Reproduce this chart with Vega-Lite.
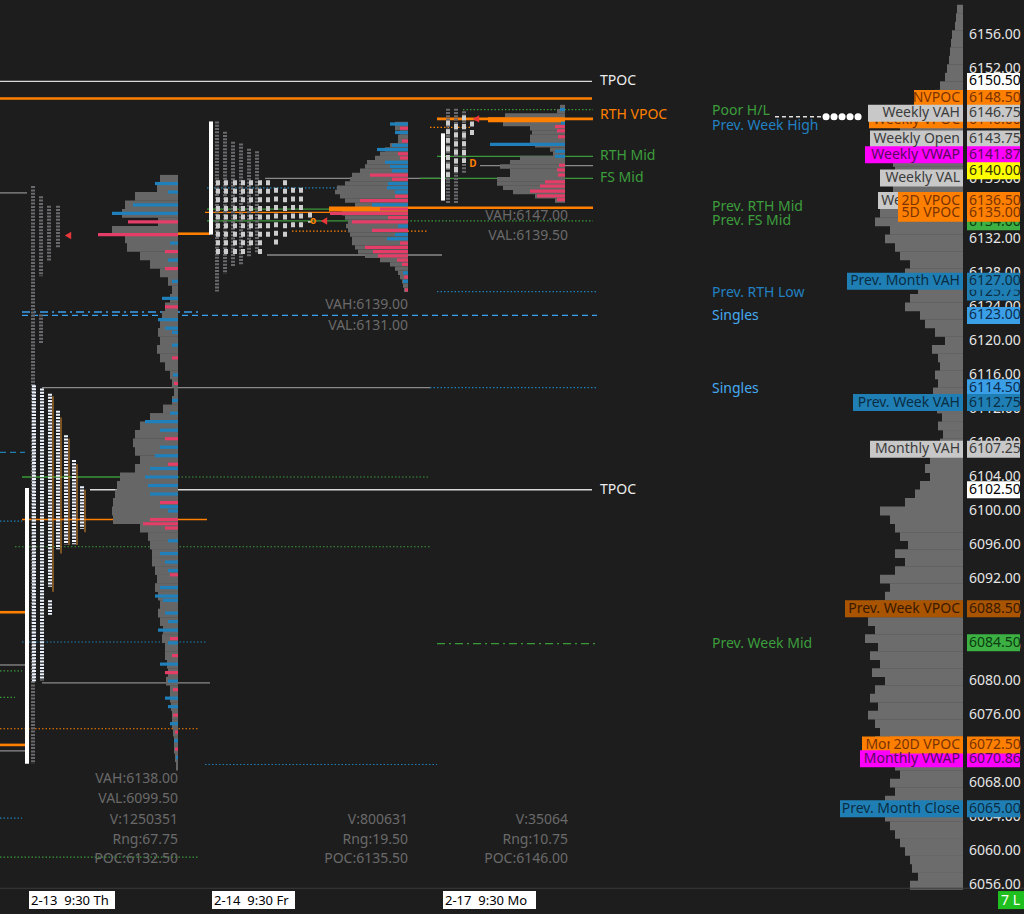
{
"$schema": "https://vega.github.io/schema/vega-lite/v6.json",
"width": 1024, "height": 914, "padding": 0, "autosize": {"type": "none"},
"background": "#1d1d1d",
"config": {"view": {"stroke": null}, "text": {"font": "Noto Sans"}},
"resolve": {"scale": {"x": "independent", "color": "independent"}},
"datasets": {
"composite": [{"p":6159,"v":6},{"p":6158,"v":7},{"p":6157,"v":8},{"p":6156,"v":11},{"p":6155,"v":12},{"p":6154,"v":13},{"p":6153,"v":14},{"p":6152,"v":16},{"p":6151,"v":18},{"p":6150,"v":23},{"p":6149,"v":28},{"p":6148,"v":33},{"p":6147,"v":48},{"p":6146,"v":58},{"p":6145,"v":63},{"p":6144,"v":58},{"p":6143,"v":63},{"p":6142,"v":68},{"p":6141,"v":70},{"p":6140,"v":68},{"p":6139,"v":65},{"p":6138,"v":70},{"p":6137,"v":73},{"p":6136,"v":78},{"p":6135,"v":83},{"p":6134,"v":88},{"p":6133,"v":73},{"p":6132,"v":78},{"p":6131,"v":68},{"p":6130,"v":63},{"p":6129,"v":53},{"p":6128,"v":58},{"p":6127,"v":51},{"p":6126,"v":45},{"p":6125,"v":53},{"p":6124,"v":58},{"p":6123,"v":43},{"p":6122,"v":38},{"p":6121,"v":28},{"p":6120,"v":18},{"p":6119,"v":31},{"p":6118,"v":25},{"p":6117,"v":23},{"p":6116,"v":28},{"p":6115,"v":25},{"p":6114,"v":30},{"p":6113,"v":23},{"p":6112,"v":26},{"p":6111,"v":21},{"p":6110,"v":25},{"p":6109,"v":20},{"p":6108,"v":23},{"p":6107,"v":28},{"p":6106,"v":33},{"p":6105,"v":38},{"p":6104,"v":33},{"p":6103,"v":43},{"p":6102,"v":48},{"p":6101,"v":58},{"p":6100,"v":83},{"p":6099,"v":73},{"p":6098,"v":68},{"p":6097,"v":63},{"p":6096,"v":55},{"p":6095,"v":68},{"p":6094,"v":58},{"p":6093,"v":68},{"p":6092,"v":83},{"p":6091,"v":73},{"p":6090,"v":78},{"p":6089,"v":88},{"p":6088,"v":93},{"p":6087,"v":95},{"p":6086,"v":88},{"p":6085,"v":98},{"p":6084,"v":85},{"p":6083,"v":93},{"p":6082,"v":83},{"p":6081,"v":91},{"p":6080,"v":78},{"p":6079,"v":88},{"p":6078,"v":93},{"p":6077,"v":85},{"p":6076,"v":95},{"p":6075,"v":88},{"p":6074,"v":83},{"p":6073,"v":88},{"p":6072,"v":93},{"p":6071,"v":83},{"p":6070,"v":68},{"p":6069,"v":63},{"p":6068,"v":73},{"p":6067,"v":68},{"p":6066,"v":78},{"p":6065,"v":83},{"p":6064,"v":78},{"p":6063,"v":73},{"p":6062,"v":68},{"p":6061,"v":63},{"p":6060,"v":58},{"p":6059,"v":53},{"p":6058,"v":51},{"p":6057,"v":45},{"p":6056,"v":53}],
"s1": [{"p":6139,"v":18},{"p":6138,"v":21},{"p":6137,"v":43},{"p":6136,"v":53},{"p":6135,"v":56},{"p":6134,"v":20},{"p":6133,"v":66},{"p":6132,"v":53},{"p":6131,"v":51},{"p":6130,"v":38},{"p":6129,"v":28},{"p":6128,"v":18},{"p":6127,"v":10},{"p":6126,"v":6},{"p":6125,"v":8},{"p":6124,"v":13},{"p":6123,"v":16},{"p":6122,"v":18},{"p":6121,"v":20},{"p":6120,"v":18},{"p":6119,"v":21},{"p":6118,"v":18},{"p":6117,"v":13},{"p":6116,"v":8},{"p":6115,"v":6},{"p":6114,"v":4},{"p":6113,"v":6},{"p":6112,"v":15},{"p":6111,"v":28},{"p":6110,"v":38},{"p":6109,"v":43},{"p":6108,"v":45},{"p":6107,"v":43},{"p":6106,"v":38},{"p":6105,"v":43},{"p":6104,"v":58},{"p":6103,"v":61},{"p":6102,"v":63},{"p":6101,"v":65},{"p":6100,"v":66},{"p":6099,"v":65},{"p":6098,"v":38},{"p":6097,"v":30},{"p":6096,"v":28},{"p":6095,"v":26},{"p":6094,"v":26},{"p":6093,"v":23},{"p":6092,"v":21},{"p":6091,"v":23},{"p":6090,"v":20},{"p":6089,"v":18},{"p":6088,"v":20},{"p":6087,"v":18},{"p":6086,"v":15},{"p":6085,"v":16},{"p":6084,"v":13},{"p":6083,"v":13},{"p":6082,"v":11},{"p":6081,"v":10},{"p":6080,"v":12},{"p":6079,"v":8},{"p":6078,"v":8},{"p":6077,"v":7},{"p":6076,"v":6},{"p":6075,"v":6},{"p":6074,"v":5},{"p":6073,"v":4},{"p":6072,"v":4},{"p":6071,"v":3},{"p":6070,"v":2}],
"s1d": [{"p":6138.5,"v":23,"side":"buy"},{"p":6137.5,"v":10,"side":"buy"},{"p":6136,"v":45,"side":"buy"},{"p":6135,"v":66,"side":"buy"},{"p":6134,"v":50,"side":"sell"},{"p":6132.5,"v":80,"side":"sell"},{"p":6131.5,"v":8,"side":"buy"},{"p":6130.5,"v":13,"side":"sell"},{"p":6129.5,"v":10,"side":"buy"},{"p":6128.5,"v":13,"side":"sell"},{"p":6127,"v":6,"side":"buy"},{"p":6125,"v":16,"side":"buy"},{"p":6124,"v":13,"side":"sell"},{"p":6122.5,"v":20,"side":"buy"},{"p":6121.5,"v":13,"side":"buy"},{"p":6121,"v":6,"side":"buy"},{"p":6119.5,"v":6,"side":"buy"},{"p":6118,"v":6,"side":"sell"},{"p":6116,"v":5,"side":"buy"},{"p":6115,"v":4,"side":"sell"},{"p":6113,"v":6,"side":"buy"},{"p":6111.5,"v":8,"side":"buy"},{"p":6110.5,"v":33,"side":"buy"},{"p":6109.5,"v":18,"side":"buy"},{"p":6108.5,"v":13,"side":"sell"},{"p":6107.5,"v":18,"side":"buy"},{"p":6106.5,"v":23,"side":"buy"},{"p":6105.5,"v":10,"side":"sell"},{"p":6105,"v":28,"side":"buy"},{"p":6104,"v":33,"side":"buy"},{"p":6103,"v":30,"side":"buy"},{"p":6102,"v":28,"side":"buy"},{"p":6101,"v":18,"side":"sell"},{"p":6100.5,"v":18,"side":"buy"},{"p":6100,"v":10,"side":"buy"},{"p":6099,"v":28,"side":"sell"},{"p":6098.5,"v":35,"side":"sell"},{"p":6098,"v":13,"side":"sell"},{"p":6096.5,"v":10,"side":"buy"},{"p":6095,"v":18,"side":"buy"},{"p":6094,"v":13,"side":"buy"},{"p":6093,"v":10,"side":"buy"},{"p":6092.5,"v":8,"side":"sell"},{"p":6091,"v":18,"side":"buy"},{"p":6090,"v":23,"side":"buy"},{"p":6089.5,"v":15,"side":"buy"},{"p":6088,"v":13,"side":"buy"},{"p":6087,"v":10,"side":"buy"},{"p":6086,"v":20,"side":"buy"},{"p":6085,"v":8,"side":"sell"},{"p":6084.5,"v":10,"side":"buy"},{"p":6083,"v":6,"side":"sell"},{"p":6082,"v":18,"side":"buy"},{"p":6081,"v":13,"side":"sell"},{"p":6080,"v":10,"side":"buy"},{"p":6079,"v":5,"side":"sell"},{"p":6078,"v":13,"side":"buy"},{"p":6077,"v":10,"side":"buy"},{"p":6076,"v":5,"side":"sell"},{"p":6075,"v":8,"side":"buy"},{"p":6074,"v":3,"side":"sell"},{"p":6073,"v":4,"side":"buy"},{"p":6072,"v":3,"side":"sell"},{"p":6071,"v":2,"side":"buy"}],
"s2": [{"p":6145.5,"v":13},{"p":6145,"v":13},{"p":6144.5,"v":8},{"p":6144,"v":10},{"p":6143.5,"v":10},{"p":6143,"v":18},{"p":6142.5,"v":23},{"p":6142,"v":28},{"p":6141.5,"v":33},{"p":6141,"v":41},{"p":6140.5,"v":43},{"p":6140,"v":48},{"p":6139.5,"v":56},{"p":6139,"v":58},{"p":6138.5,"v":63},{"p":6138,"v":71},{"p":6137.5,"v":73},{"p":6137,"v":68},{"p":6136.5,"v":63},{"p":6136,"v":53},{"p":6135,"v":66},{"p":6134.5,"v":63},{"p":6134,"v":60},{"p":6133.5,"v":62},{"p":6133,"v":60},{"p":6132.5,"v":58},{"p":6132,"v":56},{"p":6131.5,"v":56},{"p":6131,"v":53},{"p":6130.5,"v":50},{"p":6130,"v":43},{"p":6129.5,"v":28},{"p":6129,"v":18},{"p":6128.5,"v":13},{"p":6128,"v":10},{"p":6127.5,"v":8},{"p":6127,"v":6},{"p":6126.5,"v":5},{"p":6126,"v":4}],
"s2poc": [{"p":6135.5,"v":79}],
"s2d": [{"p":6145.5,"v":18,"side":"buy"},{"p":6145,"v":8,"side":"sell"},{"p":6144.5,"v":13,"side":"buy"},{"p":6143.5,"v":6,"side":"sell"},{"p":6143,"v":16,"side":"buy"},{"p":6142.5,"v":31,"side":"buy"},{"p":6142,"v":10,"side":"sell"},{"p":6141.5,"v":8,"side":"sell"},{"p":6141,"v":23,"side":"buy"},{"p":6140.5,"v":18,"side":"buy"},{"p":6140,"v":16,"side":"buy"},{"p":6139.5,"v":38,"side":"sell"},{"p":6139,"v":16,"side":"sell"},{"p":6138.5,"v":20,"side":"buy"},{"p":6138,"v":21,"side":"buy"},{"p":6137.5,"v":13,"side":"buy"},{"p":6137,"v":13,"side":"sell"},{"p":6136.5,"v":48,"side":"sell"},{"p":6136,"v":36,"side":"buy"},{"p":6135.5,"v":28,"side":"sell"},{"p":6135,"v":78,"side":"sell"},{"p":6134.5,"v":20,"side":"sell"},{"p":6134,"v":56,"side":"sell"},{"p":6133.5,"v":10,"side":"buy"},{"p":6133,"v":36,"side":"sell"},{"p":6132.5,"v":13,"side":"buy"},{"p":6132,"v":21,"side":"buy"},{"p":6131.5,"v":8,"side":"sell"},{"p":6131,"v":43,"side":"sell"},{"p":6130.5,"v":35,"side":"sell"},{"p":6130,"v":30,"side":"sell"},{"p":6129.5,"v":11,"side":"sell"},{"p":6129,"v":6,"side":"sell"},{"p":6128,"v":5,"side":"buy"},{"p":6127.5,"v":4,"side":"sell"},{"p":6127,"v":5,"side":"buy"},{"p":6126,"v":3,"side":"sell"}],
"s3": [{"p":6147.5,"v":5},{"p":6147,"v":8},{"p":6146.5,"v":60},{"p":6145.5,"v":62},{"p":6145,"v":35},{"p":6144.5,"v":33},{"p":6144,"v":35},{"p":6143.5,"v":35},{"p":6143,"v":30},{"p":6142.5,"v":15},{"p":6142,"v":12},{"p":6141.5,"v":45},{"p":6141,"v":55},{"p":6140.5,"v":65},{"p":6140,"v":55},{"p":6139.5,"v":55},{"p":6139,"v":68},{"p":6138.5,"v":68},{"p":6138,"v":62},{"p":6137.5,"v":52},{"p":6137,"v":30},{"p":6136.5,"v":10}],
"s3poc": [{"p":6146,"v":77}],
"s3d": [{"p":6147.2,"v":5,"side":"buy"},{"p":6145.6,"v":4,"side":"buy"},{"p":6145.2,"v":10,"side":"sell"},{"p":6144.7,"v":8,"side":"sell"},{"p":6144,"v":7,"side":"sell"},{"p":6143.1,"v":75,"side":"buy"},{"p":6142.3,"v":10,"side":"buy"},{"p":6141.7,"v":10,"side":"buy"},{"p":6140.65,"v":6,"side":"sell"},{"p":6140.1,"v":8,"side":"sell"},{"p":6139.5,"v":7,"side":"sell"},{"p":6138.7,"v":20,"side":"sell"},{"p":6138.2,"v":25,"side":"sell"},{"p":6137.6,"v":35,"side":"sell"},{"p":6137.05,"v":28,"side":"sell"},{"p":6136.6,"v":8,"side":"sell"}],
"frame": [{"p":6055.65,"t0":0,"t1":1024}],
"solidLines": [{"p":6150.5,"t0":0,"t1":592,"kind":"TPOC"},{"p":6102.5,"t0":90,"t1":592,"kind":"TPOC"},{"p":6140.6,"t0":480,"t1":593,"kind":"Profile"},{"p":6139.1,"t0":265,"t1":440,"kind":"Profile"},{"p":6130.1,"t0":267,"t1":442,"kind":"Profile"},{"p":6114.5,"t0":42,"t1":430,"kind":"Profile"},{"p":6079.8,"t0":42,"t1":210,"kind":"Profile"},{"p":6137.4,"t0":0,"t1":27,"kind":"Profile"},{"p":6081.9,"t0":0,"t1":27,"kind":"Profile"},{"p":6071.8,"t0":0,"t1":27,"kind":"Profile"},{"p":6141.7,"t0":437,"t1":593,"kind":"Mid"},{"p":6139.1,"t0":420,"t1":593,"kind":"Mid"},{"p":6104.0,"t0":22,"t1":178,"kind":"Mid"},{"p":6135.5,"t0":207,"t1":330,"kind":"Mid"},{"p":6134.1,"t0":207,"t1":365,"kind":"Mid"},{"p":6135.1,"t0":205,"t1":330,"kind":"VPOC"},{"p":6099.0,"t0":22,"t1":207,"kind":"VPOC"}],
"thickLines": [{"p":6148.5,"t0":0,"t1":592,"kind":"VPOC"},{"p":6146.1,"t0":437,"t1":593,"kind":"VPOC"},{"p":6135.65,"t0":378,"t1":593,"kind":"VPOC"},{"p":6132.6,"t0":178,"t1":210,"kind":"VPOC"},{"p":6088.1,"t0":0,"t1":27,"kind":"VPOC"},{"p":6072.5,"t0":0,"t1":27,"kind":"VPOC"}],
"dottedLines": [{"p":6147.2,"t0":463,"t1":593,"kind":"Mid"},{"p":6145.1,"t0":430,"t1":470,"kind":"VPOC"},{"p":6138.0,"t0":207,"t1":363,"kind":"Level"},{"p":6132.9,"t0":292,"t1":427,"kind":"VPOC"},{"p":6134.1,"t0":365,"t1":593,"kind":"Mid"},{"p":6125.8,"t0":437,"t1":597,"kind":"Level"},{"p":6114.5,"t0":430,"t1":597,"kind":"Level"},{"p":6104.0,"t0":178,"t1":430,"kind":"Mid"},{"p":6098.8,"t0":0,"t1":22,"kind":"Level"},{"p":6095.8,"t0":15,"t1":430,"kind":"Mid"},{"p":6084.6,"t0":22,"t1":207,"kind":"Level"},{"p":6081.2,"t0":0,"t1":22,"kind":"Mid"},{"p":6078.1,"t0":0,"t1":15,"kind":"Mid"},{"p":6074.4,"t0":0,"t1":198,"kind":"VPOC"},{"p":6070.2,"t0":205,"t1":437,"kind":"Level"},{"p":6063.9,"t0":0,"t1":22,"kind":"Level"},{"p":6059.3,"t0":0,"t1":198,"kind":"Mid"}],
"dashedLines": [{"p":6123.0,"t0":22,"t1":597,"kind":"Singles"},{"p":6106.9,"t0":0,"t1":25,"kind":"Level"}],
"dashDotLines": [{"p":6123.4,"t0":22,"t1":200,"kind":"Singles"},{"p":6084.4,"t0":437,"t1":597,"kind":"Mid"}],
"tpoEth": [{"t":33,"p1":6138.2,"p2":6070.3},{"t":41,"p1":6137.0,"p2":6127.6},{"t":41,"p1":6123.1,"p2":6119.7},{"t":49,"p1":6135.9,"p2":6129.3},{"t":58,"p1":6135.9,"p2":6131.0},{"t":217,"p1":6145.8,"p2":6125.8},{"t":225,"p1":6144.6,"p2":6127.9},{"t":233,"p1":6143.4,"p2":6128.7},{"t":241,"p1":6143.2,"p2":6129.0},{"t":249,"p1":6142.6,"p2":6129.8},{"t":257,"p1":6142.3,"p2":6130.4},{"t":448,"p1":6147.3,"p2":6136.2},{"t":456,"p1":6147.3,"p2":6136.2},{"t":464,"p1":6147.0,"p2":6139.7}],
"tpoPeriod": [{"t":53,"p1":6113.5,"p2":6090.5},{"t":61,"p1":6111,"p2":6095},{"t":69,"p1":6108.5,"p2":6096},{"t":77,"p1":6105.5,"p2":6096},{"t":85,"p1":6102.5,"p2":6097.5}],
"tpoRth1": [{"t":34,"p1":6114.8,"p2":6080.0},{"t":42,"p1":6114.4,"p2":6080.1},{"t":50,"p1":6113.8,"p2":6091.1},{"t":58,"p1":6111.8,"p2":6095.5},{"t":66,"p1":6108.9,"p2":6096.1},{"t":74,"p1":6106.0,"p2":6096.1},{"t":82,"p1":6102.9,"p2":6097.9},{"t":50,"p1":6089.5,"p2":6087.8}],
"tpoRth": [{"t":218,"p1":6138.9,"p2":6130.1},{"t":226,"p1":6138.9,"p2":6130.1},{"t":235,"p1":6138.9,"p2":6130.1},{"t":243,"p1":6138.9,"p2":6130.1},{"t":251,"p1":6138.9,"p2":6131.0},{"t":260,"p1":6138.9,"p2":6130.1},{"t":268,"p1":6138.9,"p2":6132.2},{"t":276,"p1":6138.0,"p2":6131.0},{"t":285,"p1":6138.9,"p2":6132.2},{"t":293,"p1":6138.0,"p2":6133.0},{"t":301,"p1":6138.0,"p2":6133.3},{"t":310,"p1":6135.1,"p2":6133.9},{"t":448,"p1":6145.9,"p2":6138.8},{"t":456,"p1":6145.5,"p2":6139.7},{"t":464,"p1":6146.5,"p2":6140.9},{"t":472,"p1":6145.8,"p2":6143.8}],
"ranges": [{"t":27,"p1":6102.7,"p2":6070.3},{"t":211,"p1":6145.8,"p2":6132.5},{"t":443,"p1":6144.4,"p2":6136.5}],
"markers": [{"t":68,"p":6132.4},{"t":324,"p":6134.1},{"t":476,"p":6146.1}],
"openMarks": [{"t":313,"p":6134.1,"label":"o"},{"t":473,"p":6140.8,"label":"D"}],
"poorDash": [{"p":6146.35,"t0":775,"t1":822}],
"poorDots": [{"p":6146.35,"t0":826,"t1":866}],
"notes": [{"t":600,"p":6150.5,"label":"TPOC","kind":"TPOC"},{"t":600,"p":6146.6,"label":"RTH VPOC","kind":"VPOC"},{"t":600,"p":6141.7,"label":"RTH Mid","kind":"Mid"},{"t":600,"p":6139.1,"label":"FS Mid","kind":"Mid"},{"t":600,"p":6102.5,"label":"TPOC","kind":"TPOC"},{"t":712,"p":6147.05,"label":"Poor H/L","kind":"Mid"},{"t":712,"p":6145.3,"label":"Prev. Week High","kind":"Level"},{"t":712,"p":6135.8,"label":"Prev. RTH Mid","kind":"Mid"},{"t":712,"p":6134.1,"label":"Prev. FS Mid","kind":"Mid"},{"t":712,"p":6125.65,"label":"Prev. RTH Low","kind":"Level"},{"t":712,"p":6122.9,"label":"Singles","kind":"Singles"},{"t":712,"p":6114.4,"label":"Singles","kind":"Singles"},{"t":712,"p":6084.4,"label":"Prev. Week Mid","kind":"Mid"}],
"stats": [{"t":178,"p":6068.44,"label":"VAH:6138.00"},{"t":178,"p":6066.1,"label":"VAL:6099.50"},{"t":178,"p":6063.67,"label":"V:1250351"},{"t":178,"p":6061.35,"label":"Rng:67.75"},{"t":178,"p":6059.14,"label":"POC:6132.50"},{"t":408,"p":6124.26,"label":"VAH:6139.00"},{"t":408,"p":6121.8,"label":"VAL:6131.00"},{"t":408,"p":6063.67,"label":"V:800631"},{"t":408,"p":6061.35,"label":"Rng:19.50"},{"t":408,"p":6059.14,"label":"POC:6135.50"},{"t":568,"p":6134.7,"label":"VAH:6147.00"},{"t":568,"p":6132.3,"label":"VAL:6139.50"},{"t":568,"p":6063.67,"label":"V:35064"},{"t":568,"p":6061.35,"label":"Rng:10.75"},{"t":568,"p":6059.14,"label":"POC:6146.00"}],
"priceTicks": [{"p":6056},{"p":6060},{"p":6064},{"p":6068},{"p":6072},{"p":6076},{"p":6080},{"p":6084},{"p":6088},{"p":6092},{"p":6096},{"p":6100},{"p":6104},{"p":6108},{"p":6112},{"p":6116},{"p":6120},{"p":6124},{"p":6128},{"p":6132},{"p":6136},{"p":6140},{"p":6144},{"p":6148},{"p":6152},{"p":6156},{"p":6139}],
"tagsBack": [{"p":6146.0,"label":"Weekly VPOC","kind":"VPOC","t0":869},{"p":6136.5,"label":"Weekly POC","kind":"Value","t0":878},{"p":6072.5,"label":"Monthly VPOC","kind":"VPOC","t0":862}],
"tagsFront": [{"p":6148.5,"label":"NVPOC","kind":"VPOC","t0":914},{"p":6146.75,"label":"Weekly VAH","kind":"Value","t0":868},{"p":6143.75,"label":"Weekly Open","kind":"Value","t0":870},{"p":6141.87,"label":"Weekly VWAP","kind":"VWAP","t0":865},{"p":6139.14,"label":"Weekly VAL","kind":"Value","t0":880},{"p":6136.5,"label":"2D VPOC","kind":"VPOC","t0":898},{"p":6135.0,"label":"5D VPOC","kind":"VPOC","t0":898},{"p":6127.0,"label":"Prev. Month VAH","kind":"Prior","t0":847},{"p":6112.75,"label":"Prev. Week VAH","kind":"Prior","t0":853},{"p":6107.25,"label":"Monthly VAH","kind":"Value","t0":870},{"p":6088.5,"label":"Prev. Week VPOC","kind":"PriorVPOC","t0":845},{"p":6070.86,"label":"Monthly VWAP","kind":"VWAP","t0":860},{"p":6072.5,"label":"20D VPOC","kind":"VPOC","t0":890},{"p":6065.0,"label":"Prev. Month Close","kind":"Prior","t0":840}],
"pricesBack": [{"p":6146.0,"kind":"VPOC"},{"p":6134.0,"kind":"Mid"},{"p":6125.75,"kind":"Prior"}],
"pricesFront": [{"p":6150.5,"kind":"Session"},{"p":6148.5,"kind":"VPOC"},{"p":6146.75,"kind":"Value"},{"p":6143.75,"kind":"Value"},{"p":6141.87,"kind":"VWAP"},{"p":6140.0,"kind":"Last"},{"p":6136.5,"kind":"VPOC"},{"p":6135.0,"kind":"VPOC"},{"p":6127.0,"kind":"Prior"},{"p":6123.0,"kind":"Singles"},{"p":6114.5,"kind":"Singles"},{"p":6112.75,"kind":"Prior"},{"p":6107.25,"kind":"Value"},{"p":6102.5,"kind":"Session"},{"p":6088.5,"kind":"PriorVPOC"},{"p":6084.5,"kind":"Mid"},{"p":6070.86,"kind":"VWAP"},{"p":6072.5,"kind":"VPOC"},{"p":6065.0,"kind":"Prior"}],
"times": [{"t0":29,"t1":115,"label":"2-13\u00a0\u00a09:30 Th"},{"t0":212,"t1":295,"label":"2-14\u00a0\u00a09:30 Fr"},{"t0":443,"t1":536,"label":"2-17\u00a0\u00a09:30 Mo"}],
"status": [{"t0":998,"t1":1024,"label":"7 L"}]
},
"layer": [
{"data":{"name":"composite"},"mark":{"type":"bar","orient":"horizontal","size":8.8,"color":"#6c6c6c"},
 "encoding":{"x":{"field":"v","type":"quantitative","scale":{"domain":[-61,963],"reverse":true,"nice":false,"zero":false},"axis":null},"x2":{"datum":0},
 "y":{"field":"p","type":"quantitative","scale":{"domain":[6053.21,6159.49],"nice":false,"zero":false},"axis":null}}},
{"data":{"name":"frame"},"mark":{"type":"rule","strokeWidth":1,"color":"#3c3c3c"},
 "encoding":{"x":{"field":"t0","type":"quantitative","scale":{"domain":[0,1024],"nice":false,"zero":false},"axis":null},"x2":{"field":"t1"},"y":{"field":"p","type":"quantitative","scale":{"domain":[6053.21,6159.49],"nice":false,"zero":false},"axis":null}}},
{"data":{"name":"solidLines"},"mark":{"type":"rule","strokeWidth":1.3},
 "encoding":{"x":{"field":"t0","type":"quantitative","scale":{"domain":[0,1024],"nice":false,"zero":false},"axis":null},"x2":{"field":"t1"},"y":{"field":"p","type":"quantitative","scale":{"domain":[6053.21,6159.49],"nice":false,"zero":false},"axis":null},
 "color":{"field":"kind","type":"nominal","scale":{"domain":["TPOC","Profile","Mid","VPOC","Level","Singles"],"range":["#d9d9d9","#8a8a8a","#3a9a3a","#ff8000","#1f7fb4","#3aa0f0"]},"legend":null}}},
{"data":{"name":"thickLines"},"mark":{"type":"rule","strokeWidth":2.6},
 "encoding":{"x":{"field":"t0","type":"quantitative","scale":{"domain":[0,1024],"nice":false,"zero":false},"axis":null},"x2":{"field":"t1"},"y":{"field":"p","type":"quantitative","scale":{"domain":[6053.21,6159.49],"nice":false,"zero":false},"axis":null},
 "color":{"field":"kind","type":"nominal","scale":{"domain":["TPOC","Profile","Mid","VPOC","Level","Singles"],"range":["#d9d9d9","#8a8a8a","#3a9a3a","#ff8000","#1f7fb4","#3aa0f0"]},"legend":null}}},
{"data":{"name":"dottedLines"},"mark":{"type":"rule","strokeWidth":1.2,"strokeDash":[1.5,2]},
 "encoding":{"x":{"field":"t0","type":"quantitative","scale":{"domain":[0,1024],"nice":false,"zero":false},"axis":null},"x2":{"field":"t1"},"y":{"field":"p","type":"quantitative","scale":{"domain":[6053.21,6159.49],"nice":false,"zero":false},"axis":null},
 "color":{"field":"kind","type":"nominal","scale":{"domain":["TPOC","Profile","Mid","VPOC","Level","Singles"],"range":["#d9d9d9","#8a8a8a","#3a9a3a","#ff8000","#1f7fb4","#3aa0f0"]},"legend":null}}},
{"data":{"name":"dashedLines"},"mark":{"type":"rule","strokeWidth":1.3,"strokeDash":[6,4]},
 "encoding":{"x":{"field":"t0","type":"quantitative","scale":{"domain":[0,1024],"nice":false,"zero":false},"axis":null},"x2":{"field":"t1"},"y":{"field":"p","type":"quantitative","scale":{"domain":[6053.21,6159.49],"nice":false,"zero":false},"axis":null},
 "color":{"field":"kind","type":"nominal","scale":{"domain":["TPOC","Profile","Mid","VPOC","Level","Singles"],"range":["#d9d9d9","#8a8a8a","#3a9a3a","#ff8000","#1f7fb4","#3aa0f0"]},"legend":null}}},
{"data":{"name":"dashDotLines"},"mark":{"type":"rule","strokeWidth":1.3,"strokeDash":[8,4,2,4]},
 "encoding":{"x":{"field":"t0","type":"quantitative","scale":{"domain":[0,1024],"nice":false,"zero":false},"axis":null},"x2":{"field":"t1"},"y":{"field":"p","type":"quantitative","scale":{"domain":[6053.21,6159.49],"nice":false,"zero":false},"axis":null},
 "color":{"field":"kind","type":"nominal","scale":{"domain":["TPOC","Profile","Mid","VPOC","Level","Singles"],"range":["#d9d9d9","#8a8a8a","#3a9a3a","#ff8000","#1f7fb4","#3aa0f0"]},"legend":null}}},
{"data":{"name":"s1"},"mark":{"type":"bar","orient":"horizontal","size":8.8,"color":"#666666"},
 "encoding":{"x":{"field":"v","type":"quantitative","scale":{"domain":[-846,178],"reverse":true,"nice":false,"zero":false},"axis":null},"x2":{"datum":0},"y":{"field":"p","type":"quantitative","scale":{"domain":[6053.21,6159.49],"nice":false,"zero":false},"axis":null}}},
{"data":{"name":"s1d"},"mark":{"type":"bar","orient":"horizontal","size":3.2},
 "encoding":{"x":{"field":"v","type":"quantitative","scale":{"domain":[-846,178],"reverse":true,"nice":false,"zero":false},"axis":null},"x2":{"datum":0},"y":{"field":"p","type":"quantitative","scale":{"domain":[6053.21,6159.49],"nice":false,"zero":false},"axis":null},
 "color":{"field":"side","type":"nominal","scale":{"domain":["buy","sell"],"range":["#1f80bb","#e33d68"]},"legend":null}}},
{"data":{"name":"s2"},"mark":{"type":"bar","orient":"horizontal","size":4.4,"color":"#666666"},
 "encoding":{"x":{"field":"v","type":"quantitative","scale":{"domain":[-616,408],"reverse":true,"nice":false,"zero":false},"axis":null},"x2":{"datum":0},"y":{"field":"p","type":"quantitative","scale":{"domain":[6053.21,6159.49],"nice":false,"zero":false},"axis":null}}},
{"data":{"name":"s2poc"},"mark":{"type":"bar","orient":"horizontal","size":5,"color":"#ff8000"},
 "encoding":{"x":{"field":"v","type":"quantitative","scale":{"domain":[-616,408],"reverse":true,"nice":false,"zero":false},"axis":null},"x2":{"datum":0},"y":{"field":"p","type":"quantitative","scale":{"domain":[6053.21,6159.49],"nice":false,"zero":false},"axis":null}}},
{"data":{"name":"s2d"},"mark":{"type":"bar","orient":"horizontal","size":3.2},
 "encoding":{"x":{"field":"v","type":"quantitative","scale":{"domain":[-616,408],"reverse":true,"nice":false,"zero":false},"axis":null},"x2":{"datum":0},"y":{"field":"p","type":"quantitative","scale":{"domain":[6053.21,6159.49],"nice":false,"zero":false},"axis":null},
 "color":{"field":"side","type":"nominal","scale":{"domain":["buy","sell"],"range":["#1f80bb","#e33d68"]},"legend":null}}},
{"data":{"name":"s3"},"mark":{"type":"bar","orient":"horizontal","size":4.4,"color":"#666666"},
 "encoding":{"x":{"field":"v","type":"quantitative","scale":{"domain":[-459,565],"reverse":true,"nice":false,"zero":false},"axis":null},"x2":{"datum":0},"y":{"field":"p","type":"quantitative","scale":{"domain":[6053.21,6159.49],"nice":false,"zero":false},"axis":null}}},
{"data":{"name":"s3poc"},"mark":{"type":"bar","orient":"horizontal","size":5,"color":"#ff8000"},
 "encoding":{"x":{"field":"v","type":"quantitative","scale":{"domain":[-459,565],"reverse":true,"nice":false,"zero":false},"axis":null},"x2":{"datum":0},"y":{"field":"p","type":"quantitative","scale":{"domain":[6053.21,6159.49],"nice":false,"zero":false},"axis":null}}},
{"data":{"name":"s3d"},"mark":{"type":"bar","orient":"horizontal","size":3.2},
 "encoding":{"x":{"field":"v","type":"quantitative","scale":{"domain":[-459,565],"reverse":true,"nice":false,"zero":false},"axis":null},"x2":{"datum":0},"y":{"field":"p","type":"quantitative","scale":{"domain":[6053.21,6159.49],"nice":false,"zero":false},"axis":null},
 "color":{"field":"side","type":"nominal","scale":{"domain":["buy","sell"],"range":["#1f80bb","#e33d68"]},"legend":null}}},
{"data":{"name":"tpoEth"},"mark":{"type":"rule","strokeWidth":4,"strokeDash":[2,1.3],"color":"#6a6a6e"},
 "encoding":{"x":{"field":"t","type":"quantitative","scale":{"domain":[0,1024],"nice":false,"zero":false},"axis":null},"y":{"field":"p1","type":"quantitative","scale":{"domain":[6053.21,6159.49],"nice":false,"zero":false},"axis":null},"y2":{"field":"p2"}}},
{"data":{"name":"tpoPeriod"},"mark":{"type":"rule","strokeWidth":1,"color":"#e08a2a"},
 "encoding":{"x":{"field":"t","type":"quantitative","scale":{"domain":[0,1024],"nice":false,"zero":false},"axis":null},"y":{"field":"p1","type":"quantitative","scale":{"domain":[6053.21,6159.49],"nice":false,"zero":false},"axis":null},"y2":{"field":"p2"}}},
{"data":{"name":"tpoRth1"},"mark":{"type":"rule","strokeWidth":4,"strokeDash":[2,1.2],"color":"#eef4ff"},
 "encoding":{"x":{"field":"t","type":"quantitative","scale":{"domain":[0,1024],"nice":false,"zero":false},"axis":null},"y":{"field":"p1","type":"quantitative","scale":{"domain":[6053.21,6159.49],"nice":false,"zero":false},"axis":null},"y2":{"field":"p2"}}},
{"data":{"name":"tpoRth"},"mark":{"type":"rule","strokeWidth":4,"strokeDash":[5,3.6],"color":"#cdcdcd"},
 "encoding":{"x":{"field":"t","type":"quantitative","scale":{"domain":[0,1024],"nice":false,"zero":false},"axis":null},"y":{"field":"p1","type":"quantitative","scale":{"domain":[6053.21,6159.49],"nice":false,"zero":false},"axis":null},"y2":{"field":"p2"}}},
{"data":{"name":"ranges"},"mark":{"type":"rule","strokeWidth":4,"color":"#ffffff"},
 "encoding":{"x":{"field":"t","type":"quantitative","scale":{"domain":[0,1024],"nice":false,"zero":false},"axis":null},"y":{"field":"p1","type":"quantitative","scale":{"domain":[6053.21,6159.49],"nice":false,"zero":false},"axis":null},"y2":{"field":"p2"}}},
{"data":{"name":"markers"},"mark":{"type":"point","shape":"triangle-left","filled":true,"size":55,"color":"#e8383a","opacity":1},
 "encoding":{"x":{"field":"t","type":"quantitative","scale":{"domain":[0,1024],"nice":false,"zero":false},"axis":null},"y":{"field":"p","type":"quantitative","scale":{"domain":[6053.21,6159.49],"nice":false,"zero":false},"axis":null}}},
{"data":{"name":"openMarks"},"mark":{"type":"text","fontSize":10,"fontWeight":"bold","color":"#ff8000","align":"center","baseline":"middle"},
 "encoding":{"x":{"field":"t","type":"quantitative","scale":{"domain":[0,1024],"nice":false,"zero":false},"axis":null},"y":{"field":"p","type":"quantitative","scale":{"domain":[6053.21,6159.49],"nice":false,"zero":false},"axis":null},"text":{"field":"label"}}},
{"data":{"name":"poorDash"},"mark":{"type":"rule","strokeWidth":1.5,"strokeDash":[4,3],"color":"#e0e0e0"},
 "encoding":{"x":{"field":"t0","type":"quantitative","scale":{"domain":[0,1024],"nice":false,"zero":false},"axis":null},"x2":{"field":"t1"},"y":{"field":"p","type":"quantitative","scale":{"domain":[6053.21,6159.49],"nice":false,"zero":false},"axis":null}}},
{"data":{"name":"poorDots"},"mark":{"type":"rule","strokeWidth":7,"strokeDash":[0.1,7.9],"strokeCap":"round","color":"#ffffff"},
 "encoding":{"x":{"field":"t0","type":"quantitative","scale":{"domain":[0,1024],"nice":false,"zero":false},"axis":null},"x2":{"field":"t1"},"y":{"field":"p","type":"quantitative","scale":{"domain":[6053.21,6159.49],"nice":false,"zero":false},"axis":null}}},
{"data":{"name":"notes"},"mark":{"type":"text","fontSize":14,"align":"left","baseline":"middle"},
 "encoding":{"x":{"field":"t","type":"quantitative","scale":{"domain":[0,1024],"nice":false,"zero":false},"axis":null},"y":{"field":"p","type":"quantitative","scale":{"domain":[6053.21,6159.49],"nice":false,"zero":false},"axis":null},"text":{"field":"label"},
 "color":{"field":"kind","type":"nominal","scale":{"domain":["TPOC","VPOC","Mid","Level","Singles"],"range":["#ececec","#ff8000","#3c9d3c","#2281c2","#45aaf0"]},"legend":null}}},
{"data":{"name":"stats"},"mark":{"type":"text","fontSize":14,"align":"right","baseline":"middle","color":"#6a6a6a"},
 "encoding":{"x":{"field":"t","type":"quantitative","scale":{"domain":[0,1024],"nice":false,"zero":false},"axis":null},"y":{"field":"p","type":"quantitative","scale":{"domain":[6053.21,6159.49],"nice":false,"zero":false},"axis":null},"text":{"field":"label"}}},
{"data":{"name":"priceTicks"},"mark":{"type":"text","fontSize":14,"align":"left","baseline":"middle","color":"#e6e6e6"},
 "encoding":{"x":{"datum":969,"type":"quantitative","scale":{"domain":[0,1024],"nice":false,"zero":false},"axis":null},"y":{"field":"p","type":"quantitative","scale":{"domain":[6053.21,6159.49],"nice":false,"zero":false},"axis":null},"text":{"field":"p","type":"quantitative","format":".2f"}}},
{"data":{"name":"tagsBack"},"mark":{"type":"bar","orient":"horizontal","size":17},
 "encoding":{"x":{"field":"t0","type":"quantitative","scale":{"domain":[0,1024],"nice":false,"zero":false},"axis":null},"x2":{"datum":963},"y":{"field":"p","type":"quantitative","scale":{"domain":[6053.21,6159.49],"nice":false,"zero":false},"axis":null},
 "color":{"field":"kind","type":"nominal","scale":{"domain":["Session","VPOC","Value","VWAP","Last","Mid","Prior","Singles","PriorVPOC"],"range":["#ffffff","#ff8000","#c8c8c8","#ff00ff","#ffff00","#3cb043","#1f7fb4","#3a9fe6","#a85400"]},"legend":null}}},
{"data":{"name":"tagsBack"},"mark":{"type":"text","fontSize":14,"align":"right","baseline":"middle"},
 "encoding":{"x":{"datum":960,"type":"quantitative","scale":{"domain":[0,1024],"nice":false,"zero":false},"axis":null},"y":{"field":"p","type":"quantitative","scale":{"domain":[6053.21,6159.49],"nice":false,"zero":false},"axis":null},"text":{"field":"label"},
 "color":{"field":"kind","type":"nominal","scale":{"domain":["Session","VPOC","Value","VWAP","Last","Mid","Prior","Singles","PriorVPOC"],"range":["#000000","#7a3300","#3c3c3c","#5a0a60","#333300","#0b3d10","#0b2d44","#0b2d50","#3a1a00"]},"legend":null}}},
{"data":{"name":"pricesBack"},"mark":{"type":"bar","orient":"horizontal","size":17},
 "encoding":{"x":{"datum":967,"type":"quantitative","scale":{"domain":[0,1024],"nice":false,"zero":false},"axis":null},"x2":{"datum":1020},"y":{"field":"p","type":"quantitative","scale":{"domain":[6053.21,6159.49],"nice":false,"zero":false},"axis":null},
 "color":{"field":"kind","type":"nominal","scale":{"domain":["Session","VPOC","Value","VWAP","Last","Mid","Prior","Singles","PriorVPOC"],"range":["#ffffff","#ff8000","#c8c8c8","#ff00ff","#ffff00","#3cb043","#1f7fb4","#3a9fe6","#a85400"]},"legend":null}}},
{"data":{"name":"pricesBack"},"mark":{"type":"text","fontSize":14,"align":"left","baseline":"middle"},
 "encoding":{"x":{"datum":969,"type":"quantitative","scale":{"domain":[0,1024],"nice":false,"zero":false},"axis":null},"y":{"field":"p","type":"quantitative","scale":{"domain":[6053.21,6159.49],"nice":false,"zero":false},"axis":null},"text":{"field":"p","type":"quantitative","format":".2f"},
 "color":{"field":"kind","type":"nominal","scale":{"domain":["Session","VPOC","Value","VWAP","Last","Mid","Prior","Singles","PriorVPOC"],"range":["#000000","#7a3300","#3c3c3c","#5a0a60","#333300","#0b3d10","#0b2d44","#0b2d50","#3a1a00"]},"legend":null}}},
{"data":{"name":"tagsFront"},"mark":{"type":"bar","orient":"horizontal","size":17},
 "encoding":{"x":{"field":"t0","type":"quantitative","scale":{"domain":[0,1024],"nice":false,"zero":false},"axis":null},"x2":{"datum":963},"y":{"field":"p","type":"quantitative","scale":{"domain":[6053.21,6159.49],"nice":false,"zero":false},"axis":null},
 "color":{"field":"kind","type":"nominal","scale":{"domain":["Session","VPOC","Value","VWAP","Last","Mid","Prior","Singles","PriorVPOC"],"range":["#ffffff","#ff8000","#c8c8c8","#ff00ff","#ffff00","#3cb043","#1f7fb4","#3a9fe6","#a85400"]},"legend":null}}},
{"data":{"name":"tagsFront"},"mark":{"type":"text","fontSize":14,"align":"right","baseline":"middle"},
 "encoding":{"x":{"datum":960,"type":"quantitative","scale":{"domain":[0,1024],"nice":false,"zero":false},"axis":null},"y":{"field":"p","type":"quantitative","scale":{"domain":[6053.21,6159.49],"nice":false,"zero":false},"axis":null},"text":{"field":"label"},
 "color":{"field":"kind","type":"nominal","scale":{"domain":["Session","VPOC","Value","VWAP","Last","Mid","Prior","Singles","PriorVPOC"],"range":["#000000","#7a3300","#3c3c3c","#5a0a60","#333300","#0b3d10","#0b2d44","#0b2d50","#3a1a00"]},"legend":null}}},
{"data":{"name":"pricesFront"},"mark":{"type":"bar","orient":"horizontal","size":17},
 "encoding":{"x":{"datum":967,"type":"quantitative","scale":{"domain":[0,1024],"nice":false,"zero":false},"axis":null},"x2":{"datum":1020},"y":{"field":"p","type":"quantitative","scale":{"domain":[6053.21,6159.49],"nice":false,"zero":false},"axis":null},
 "color":{"field":"kind","type":"nominal","scale":{"domain":["Session","VPOC","Value","VWAP","Last","Mid","Prior","Singles","PriorVPOC"],"range":["#ffffff","#ff8000","#c8c8c8","#ff00ff","#ffff00","#3cb043","#1f7fb4","#3a9fe6","#a85400"]},"legend":null}}},
{"data":{"name":"pricesFront"},"mark":{"type":"text","fontSize":14,"align":"left","baseline":"middle"},
 "encoding":{"x":{"datum":969,"type":"quantitative","scale":{"domain":[0,1024],"nice":false,"zero":false},"axis":null},"y":{"field":"p","type":"quantitative","scale":{"domain":[6053.21,6159.49],"nice":false,"zero":false},"axis":null},"text":{"field":"p","type":"quantitative","format":".2f"},
 "color":{"field":"kind","type":"nominal","scale":{"domain":["Session","VPOC","Value","VWAP","Last","Mid","Prior","Singles","PriorVPOC"],"range":["#000000","#7a3300","#3c3c3c","#5a0a60","#333300","#0b3d10","#0b2d44","#0b2d50","#3a1a00"]},"legend":null}}},
{"data":{"name":"times"},"mark":{"type":"bar","orient":"horizontal","size":18,"color":"#ffffff"},
 "encoding":{"x":{"field":"t0","type":"quantitative","scale":{"domain":[0,1024],"nice":false,"zero":false},"axis":null},"x2":{"field":"t1"},"y":{"datum":6054.26,"type":"quantitative","scale":{"domain":[6053.21,6159.49],"nice":false,"zero":false},"axis":null}}},
{"data":{"name":"times"},"mark":{"type":"text","fontSize":13,"align":"left","baseline":"middle","dx":2,"color":"#000000"},
 "encoding":{"x":{"field":"t0","type":"quantitative","scale":{"domain":[0,1024],"nice":false,"zero":false},"axis":null},"y":{"datum":6054.2,"type":"quantitative","scale":{"domain":[6053.21,6159.49],"nice":false,"zero":false},"axis":null},"text":{"field":"label"}}},
{"data":{"name":"status"},"mark":{"type":"bar","orient":"horizontal","size":18,"color":"#1fbf1f"},
 "encoding":{"x":{"field":"t0","type":"quantitative","scale":{"domain":[0,1024],"nice":false,"zero":false},"axis":null},"x2":{"field":"t1"},"y":{"datum":6054.26,"type":"quantitative","scale":{"domain":[6053.21,6159.49],"nice":false,"zero":false},"axis":null}}},
{"data":{"name":"status"},"mark":{"type":"text","fontSize":14,"align":"left","baseline":"middle","dx":3,"color":"#ffffff"},
 "encoding":{"x":{"field":"t0","type":"quantitative","scale":{"domain":[0,1024],"nice":false,"zero":false},"axis":null},"y":{"datum":6054.2,"type":"quantitative","scale":{"domain":[6053.21,6159.49],"nice":false,"zero":false},"axis":null},"text":{"field":"label"}}}
]
}
